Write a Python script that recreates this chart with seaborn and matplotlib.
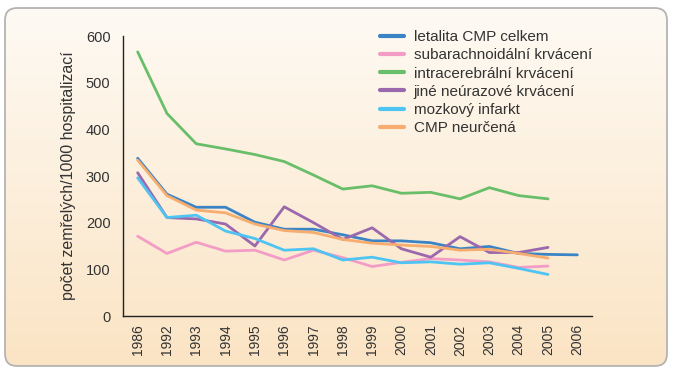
import numpy as np
import pandas as pd
import matplotlib
matplotlib.use('Agg')
import matplotlib.pyplot as plt
from matplotlib.patches import FancyBboxPatch
import seaborn as sns

# data
years = ['1986', '1992', '1993', '1994', '1995', '1996', '1997', '1998',
         '1999', '2000', '2001', '2002', '2003', '2004', '2005', '2006']

letalita = [338, 261, 233, 233, 201, 186, 186, 174, 161, 161, 157, 144, 149, 134, 132, 131]
subarachnoidalni = [171, 134, 158, 139, 141, 120, 141, 125, 106, 115, 123, 120, 116, 104, 107]
intracerebralni = [566, 434, 369, 358, 346, 331, 302, 272, 279, 263, 265, 251, 275, 258, 251]
jine = [307, 211, 208, 197, 150, 234, 200, 164, 189, 144, 126, 170, 136, 136, 147]
infarkt = [296, 211, 216, 182, 166, 141, 144, 120, 126, 114, 116, 111, 114, 102, 89]
neurcena = [334, 258, 227, 221, 197, 183, 179, 164, 156, 152, 149, 141, 143, 134, 124]

series = {
    'letalita CMP celkem': letalita,
    'subarachnoidální krvácení': subarachnoidalni,
    'intracerebrální krvácení': intracerebralni,
    'jiné neúrazové krvácení': jine,
    'mozkový infarkt': infarkt,
    'CMP neurčená': neurcena,
}
colors = ['#3a84c6', '#f39cc6', '#69be69', '#9b68ad', '#4ec4f2', '#f8ad70']

rows = []
for name, vals in series.items():
    for y, v in zip(years, vals):
        rows.append({'rok': y, 'hodnota': v, 'typ': name})
df = pd.DataFrame(rows)

sns.set_style('white')
plt.rcParams['font.family'] = ['Liberation Sans', 'DejaVu Sans']

fig = plt.figure(figsize=(6.74, 3.73), dpi=100)

# background panel with gradient and rounded corners
bg = fig.add_axes([0, 0, 1, 1], zorder=0)
bg.set_xlim(0, 1)
bg.set_ylim(0, 1)
bg.axis('off')
x0, x1 = 5 / 674, 667 / 674
y0, y1 = 1 - 366 / 373, 1 - 8 / 373
asp = 674 / 373
panel = FancyBboxPatch((x0, y0), x1 - x0, y1 - y0,
                       boxstyle='round,pad=0,rounding_size=0.018',
                       mutation_aspect=asp, transform=bg.transAxes,
                       facecolor='none', edgecolor='#b4b4b4', linewidth=1.3, zorder=3)
top = np.array([254, 250, 244]) / 255
bot = np.array([251, 228, 196]) / 255
t = np.linspace(0, 1, 256)[:, None]
grad = (top[None, :] * (1 - t) + bot[None, :] * t)[:, None, :]
im = bg.imshow(grad, extent=(x0, x1, y0, y1), aspect='auto', origin='upper', zorder=1)
clip = FancyBboxPatch((x0, y0), x1 - x0, y1 - y0,
                      boxstyle='round,pad=0,rounding_size=0.018',
                      mutation_aspect=asp, transform=bg.transAxes,
                      facecolor='none', edgecolor='none')
bg.add_patch(clip)
im.set_clip_path(clip)
bg.add_patch(panel)

ax = fig.add_axes([123 / 674, 1 - 316 / 373, 469 / 674, 280 / 373], zorder=1)
ax.set_facecolor('none')

sns.lineplot(data=df, x='rok', y='hodnota', hue='typ', palette=colors,
             linewidth=2.0, ax=ax, legend=True)

ax.set_xlim(-0.5, len(years) - 0.5)
ax.set_ylim(0, 600)
ax.set_yticks(range(0, 601, 100))
ax.set_xticks(range(len(years)))
ax.set_xticklabels(years, rotation=90)
ax.set_xticks(np.arange(-0.5, len(years), 1), minor=True)
ax.tick_params(axis='x', which='major', length=0, pad=6, labelsize=10, labelcolor='#333333')
ax.tick_params(axis='x', which='minor', length=6, width=1, color='#222222', direction='out')
ax.tick_params(axis='y', length=6, width=1, color='#222222', direction='out',
               labelsize=10.5, labelcolor='#333333', pad=3)
ax.set_xlabel('')
ax.set_ylabel('počet zemřelých/1000 hospitalizací', fontsize=11.5, color='#333333', labelpad=7)
sns.despine(ax=ax)
for s in ['left', 'bottom']:
    ax.spines[s].set_color('#222222')
    ax.spines[s].set_linewidth(1.0)

leg = ax.legend(loc='upper left', bbox_to_anchor=(380 / 674, 1 - 30 / 373),
                bbox_transform=fig.transFigure, frameon=False, fontsize=11,
                handlelength=1.6, handletextpad=0.6, labelspacing=0.28,
                borderaxespad=0, borderpad=0)
for h in leg.get_lines():
    h.set_linewidth(3.0)
for txt in leg.get_texts():
    txt.set_color('#333333')

fig.savefig('out.png', dpi=100)
